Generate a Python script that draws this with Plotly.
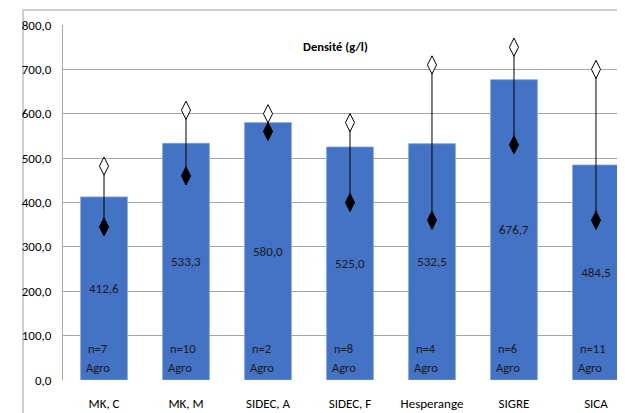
import plotly.graph_objects as go

categories = ["MK, C", "MK, M", "SIDEC, A", "SIDEC, F", "Hesperange", "SIGRE", "SICA"]
mean_values = [412.6, 533.3, 580.0, 525.0, 532.5, 676.7, 484.5]
max_values = [482, 608, 600, 580, 710, 750, 700]
min_values = [345, 460, 560, 400, 360, 530, 360]
n_values = [7, 10, 2, 8, 4, 6, 11]
y_ticks = [0, 100, 200, 300, 400, 500, 600, 700, 800]
y_tick_labels = ["0,0", "100,0", "200,0", "300,0", "400,0", "500,0", "600,0", "700,0", "800,0"]

FONT = "Carlito, Roboto, sans-serif"
idx = list(range(len(categories)))

fig = go.Figure()
fig.add_trace(go.Bar(
    x=idx, y=mean_values, width=0.57,
    marker=dict(color="#4472C4", line=dict(color="#7fa0dc", width=0.8)),
    text=[f"{v:.1f}".replace(".", ",") for v in mean_values],
    textposition="inside", insidetextanchor="middle",
    textfont=dict(family=FONT, size=13, color="#1a1a1a"),
    textangle=0, cliponaxis=False,
))

lx, ly = [], []
for i, lo, hi in zip(idx, min_values, max_values):
    lx += [i, i, None]
    ly += [lo, hi, None]
fig.add_trace(go.Scatter(x=lx, y=ly, mode="lines", line=dict(color="black", width=1)))
fig.add_trace(go.Scatter(x=idx, y=max_values, mode="markers",
                         marker=dict(symbol="diamond-tall", size=13, color="white",
                                     line=dict(color="black", width=1))))
fig.add_trace(go.Scatter(x=idx, y=min_values, mode="markers",
                         marker=dict(symbol="diamond-tall", size=13, color="black",
                                     line=dict(color="black", width=1))))

for i, n in zip(idx, n_values):
    fig.add_annotation(x=i, y=0, xref="x", yref="y", text=f"n={n}",
                       showarrow=False, xanchor="left", yanchor="middle",
                       xshift=-18, yshift=32,
                       font=dict(family=FONT, size=12.5, color="#1a1a1a"))
    fig.add_annotation(x=i, y=0, xref="x", yref="y", text="Agro",
                       showarrow=False, xanchor="left", yanchor="middle",
                       xshift=-20, yshift=13,
                       font=dict(family=FONT, size=12.5, color="#1a1a1a"))

fig.add_annotation(x=2.82, y=1.0, xref="x", yref="paper", text="<b>Densité (g/l)</b>",
                   showarrow=False, xanchor="center", yanchor="top", yshift=-12,
                   font=dict(family=FONT, size=12.5, color="black"))

# outer chart border
fig.add_shape(type="rect", xref="paper", yref="paper",
              x0=-40/562, x1=1.2, y0=-0.3, y1=(380-10)/355,
              line=dict(color="#BFBFBF", width=1.5), layer="below")

fig.update_layout(
    width=617, height=405,
    margin=dict(l=55, r=0, t=17, b=33, autoexpand=False),
    paper_bgcolor="white", plot_bgcolor="white",
    showlegend=False,
    xaxis=dict(range=[-0.5, 6.354], tickmode="array", tickvals=idx, ticktext=categories,
               showgrid=False, showline=False, zeroline=False, ticks="",
               ticklabelstandoff=14,
               tickfont=dict(family=FONT, size=13, color="black")),
    yaxis=dict(range=[0, 800], tickmode="array", tickvals=y_ticks, ticktext=y_tick_labels,
               showgrid=True, gridcolor="#A6A6A6", gridwidth=1,
               showline=True, linecolor="#A6A6A6", linewidth=1, zeroline=False, ticks="",
               ticklabelstandoff=8,
               tickfont=dict(family=FONT, size=13, color="black")),
)
fig.write_html("out.html")
